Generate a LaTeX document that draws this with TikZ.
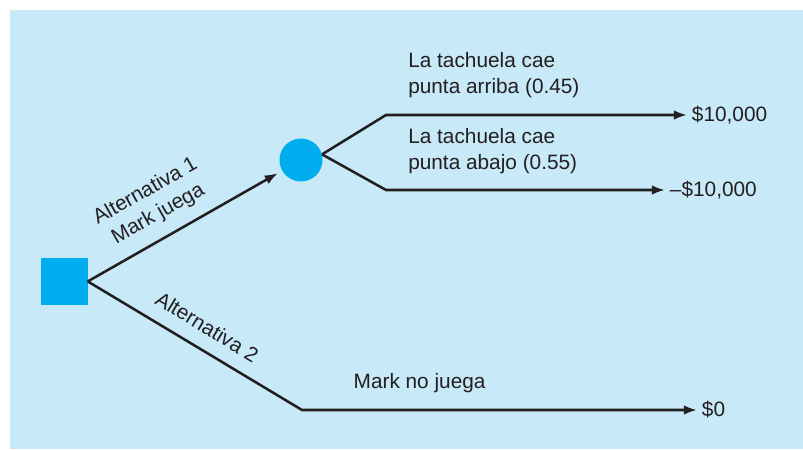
\documentclass[tikz,border=0pt]{standalone}
\usepackage{fontspec}
\setmainfont{Liberation Sans}
\usepackage{tikz}
\usetikzlibrary{arrows.meta,positioning}
\definecolor{tree-bg}{HTML}{C7E9F8}
\definecolor{tree-node}{HTML}{00AEEF}
\definecolor{tree-ink}{HTML}{231F20}
\tikzset{
  tree-decision/.style={fill=tree-node, minimum size=1.175cm, inner sep=0pt},
  tree-chance/.style={circle, fill=tree-node, minimum size=1.075cm, inner sep=0pt},
  tree-branch/.style={draw=tree-ink, line width=1.8pt, line join=miter},
  tree-label/.style={text=tree-ink, font=\fontsize{14.8}{18.5}\selectfont, align=left, inner sep=0pt},
  tree-payoff/.style={text=tree-ink, font=\fontsize{14.8}{18.5}\selectfont, anchor=west}
}

\begin{document}
\begin{tikzpicture}[>={Latex[length=3.3mm,width=2.4mm]}]
  \useasboundingbox (0,0) rectangle (20.075,11.225);
  \fill[tree-bg] (0.25,0) rectangle (20.075,10.975);
  \node[tree-decision] (decision) at (1.6,4.19) {};
  \node[tree-chance] (chance) at (7.525,7.225) {};
  \coordinate (up-bend) at (9.65,8.35);
  \coordinate (down-bend) at (9.65,6.475);
  \coordinate (skip-bend) at (7.55,0.975);
  \node[tree-payoff] (win) at (17.175,8.35) {\$10,000};
  \node[tree-payoff] (loss) at (16.625,6.475) {–\$10,000};
  \node[tree-payoff] (zero) at (17.425,0.975) {\$0};
  \draw[tree-branch, ->, shorten >=0.12cm] (decision.east) -- (chance);
  \draw[tree-branch, ->] (chance.15) -- (up-bend) -- (win.west);
  \draw[tree-branch, ->] (chance.15) -- (down-bend) -- (loss.west);
  \draw[tree-branch, ->] (decision.east) -- (skip-bend) -- (zero.west);
  \node[tree-label, anchor=west] (up-text) at (10.2,9.35) {La tachuela cae\\punta arriba (0.45)};
  \node[tree-label, anchor=west] (down-text) at (10.2,7.45) {La tachuela cae\\punta abajo (0.55)};
  \node[tree-label] (skip-text) at (10.49,1.65) {Mark no juega};
  \node[tree-label, align=center, rotate=29.6] (alt1-text) at (3.8,6.15) {Alternativa 1\\Mark juega};
  \node[tree-label, rotate=-31.3] (alt2-text) at (5.18,3.05) {Alternativa 2};
\end{tikzpicture}
\end{document}
